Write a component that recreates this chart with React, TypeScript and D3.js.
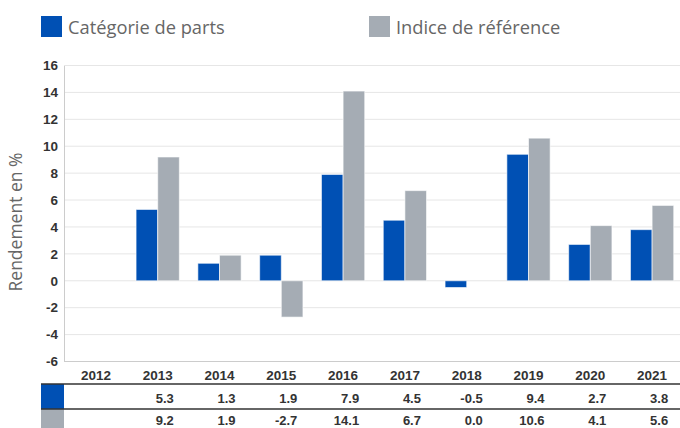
import React from "react";
import * as d3 from "d3";

const years = ["2012", "2013", "2014", "2015", "2016", "2017", "2018", "2019", "2020", "2021"];
const fundValues: (number | null)[] = [null, 5.3, 1.3, 1.9, 7.9, 4.5, -0.5, 9.4, 2.7, 3.8];
const indexValues: (number | null)[] = [null, 9.2, 1.9, -2.7, 14.1, 6.7, 0.0, 10.6, 4.1, 5.6];
const yTicks = [-6, -4, -2, 0, 2, 4, 6, 8, 10, 12, 14, 16];
const seriesNames = ["Catégorie de parts", "Indice de référence"];
const seriesColors = ["#0050b4", "#a5acb4"];

export default function App() {
  const W = 680, H = 428;
  const left = 65, right = 683, top = 65.5, bottom = 361.5;
  const x = d3.scaleBand().domain(years).range([left, right]).paddingInner(0.3).paddingOuter(0.15);
  const y = d3.scaleLinear().domain([-6, 16]).range([bottom, top]);
  const sub = d3.scaleBand().domain(["0", "1"]).range([0, x.bandwidth()]).padding(0);
  const step = x.step();
  const center = (yr: string) => x(yr)! + x.bandwidth() / 2;
  const series = [fundValues, indexValues];
  const font = "'Liberation Sans', Arial, sans-serif";
  const font2 = "'Open Sans', sans-serif";

  return (
    <svg width={W} height={H} style={{ position: "absolute", left: 0, top: 0, background: "#fff" }}>
      {/* legend */}
      {seriesNames.map((n, i) => (
        <g key={n} transform={`translate(${i === 0 ? 41 : 369},16)`}>
          <rect width={21} height={21} fill={seriesColors[i]} />
          <text x={27} y={18} fontFamily={font2} fontSize={18.3} fill="#666">{n}</text>
        </g>
      ))}
      {/* grid */}
      {yTicks.map((t) => (
        <g key={t}>
          {t !== -6 && <line x1={left} x2={W} y1={y(t)} y2={y(t)} stroke="#e6e6e6" strokeWidth={1} />}
          <text x={58} y={y(t) + 4.8} textAnchor="end" fontFamily={font} fontWeight="bold" fontSize={13.5} fill="#333">{t}</text>
        </g>
      ))}
      <line x1={left - 0.5} x2={left - 0.5} y1={top} y2={bottom} stroke="#ccc" />
      <line x1={left - 1} x2={W} y1={bottom} y2={bottom} stroke="#ccc" />
      {/* y title */}
      <text transform={`translate(22,222) rotate(-90)`} textAnchor="middle" fontFamily={font2} fontSize={17.5} fill="#666">Rendement en %</text>
      {/* bars */}
      {series.map((vals, si) =>
        years.map((yr, i) => {
          const v = vals[i];
          if (v === null || v === 0) return null;
          const x0 = x(yr)! + sub(String(si))!;
          const y0 = Math.min(y(v), y(0));
          const h = Math.abs(y(v) - y(0));
          return (
            <rect key={`${si}-${yr}`} x={x0} y={y0} width={sub.bandwidth()} height={h}
              fill={seriesColors[si]} stroke="#ffffff" strokeOpacity={0.6} strokeWidth={1} />
          );
        })
      )}
      {/* x labels */}
      {years.map((yr) => (
        <text key={yr} x={center(yr)} y={379.5} textAnchor="middle" fontFamily={font} fontWeight="bold" fontSize={13.5} fill="#333">{yr}</text>
      ))}
      {/* table */}
      <rect x={41} y={384} width={23} height={25} fill={seriesColors[0]} />
      <rect x={41} y={409} width={23} height={25} fill={seriesColors[1]} />
      <line x1={41} x2={W} y1={384} y2={384} stroke="#333" strokeWidth={1.5} />
      <line x1={41} x2={W} y1={409} y2={409} stroke="#333" strokeWidth={1.5} />
      {series.map((vals, si) =>
        years.map((yr, i) => {
          const v = vals[i];
          if (v === null) return null;
          return (
            <text key={`t${si}-${yr}`} x={center(yr) + step * 0.26} y={403 + si * 22} textAnchor="end"
              fontFamily={font} fontWeight="bold" fontSize={13} fill="#333">{v.toFixed(1)}</text>
          );
        })
      )}
    </svg>
  );
}
